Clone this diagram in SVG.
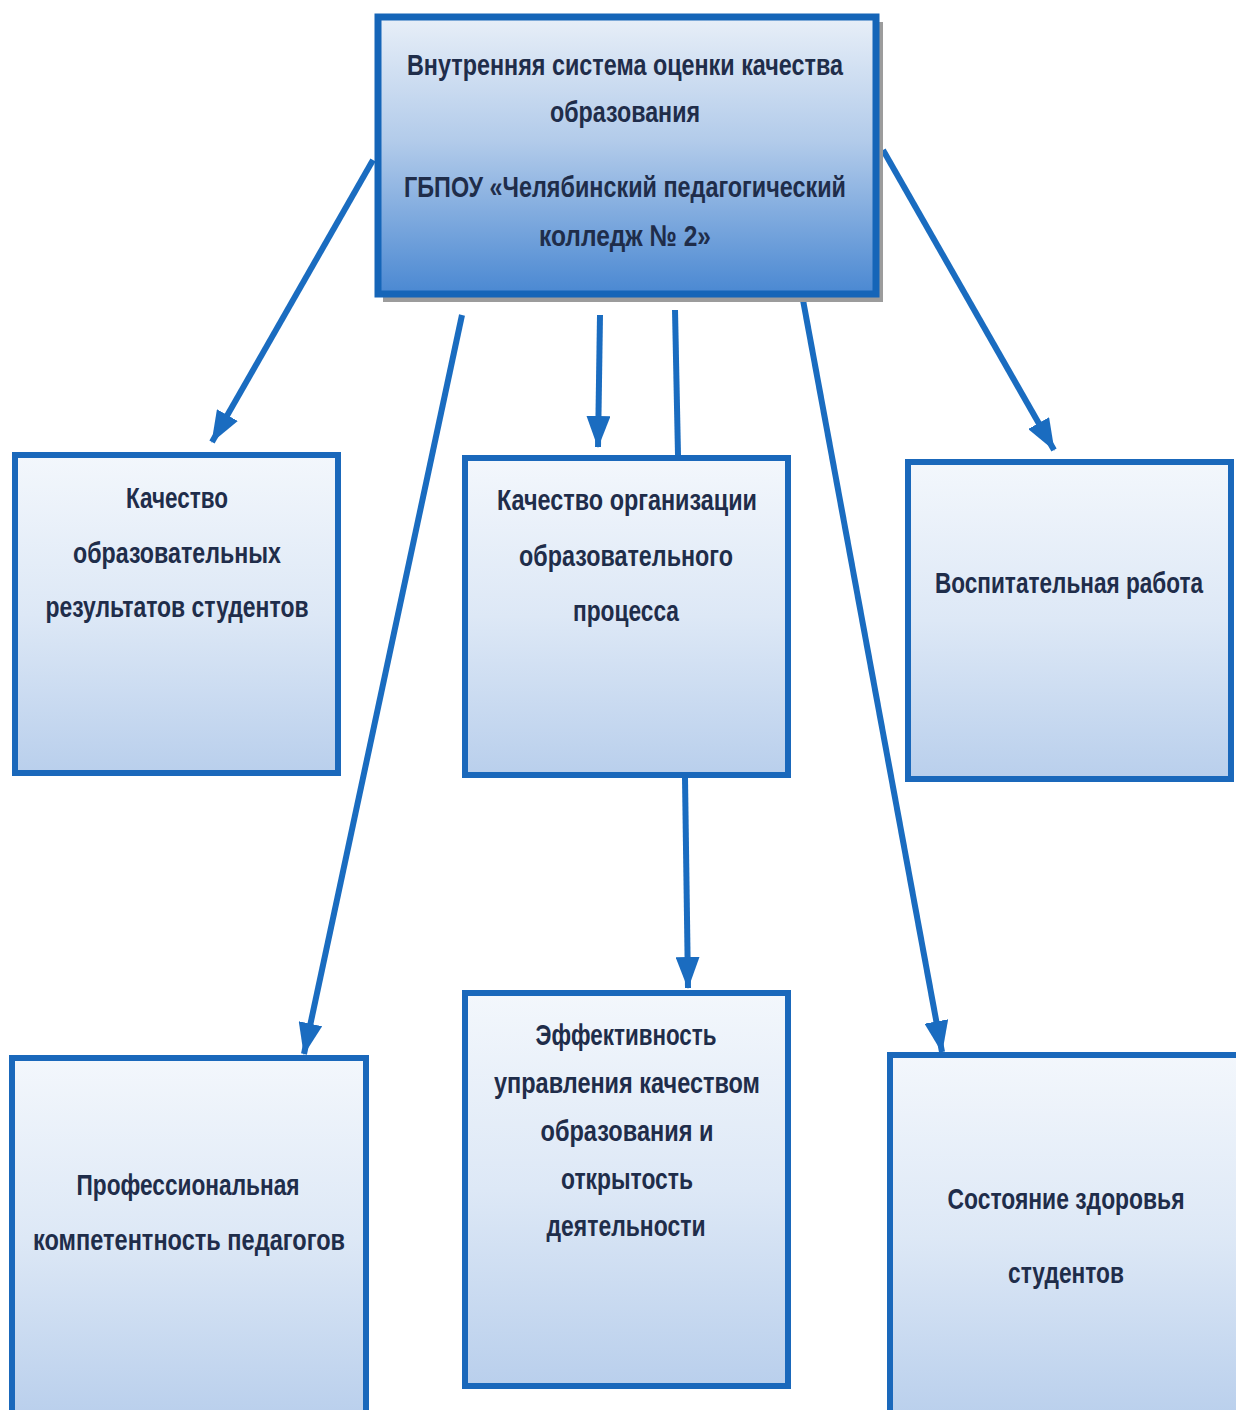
<svg xmlns="http://www.w3.org/2000/svg" width="1236" height="1410" viewBox="0 0 1236 1410">
<defs>
<linearGradient id="gTop" x1="0" y1="0" x2="0" y2="1">
<stop offset="0" stop-color="#e8eff8"/>
<stop offset="0.45" stop-color="#b2cbea"/>
<stop offset="1" stop-color="#4a88d2"/>
</linearGradient>
<linearGradient id="gBox" x1="0" y1="0" x2="0" y2="1">
<stop offset="0" stop-color="#f3f7fc"/>
<stop offset="0.5" stop-color="#dde8f6"/>
<stop offset="1" stop-color="#b9cfec"/>
</linearGradient>
<marker id="ah" viewBox="0 0 32 24" refX="31" refY="12" markerWidth="32" markerHeight="24" orient="auto" markerUnits="userSpaceOnUse">
<path d="M0,0 L32,12 L0,24 z" fill="#1a6cc0"/>
</marker>
</defs>
<style>
.box{fill:url(#gBox);stroke:#1a68bb;stroke-width:6}
.top{fill:url(#gTop);stroke:#1565b8;stroke-width:7}
.t{font-family:"Liberation Sans",Arial,sans-serif;font-weight:bold;font-size:30px;fill:#1f2d4a;text-anchor:middle}
.c{stroke:#1a6cc0;stroke-width:6;fill:none}
</style>
<rect width="1236" height="1410" fill="#ffffff"/>
<g id="connectors">
<line class="c" x1="373" y1="160" x2="212" y2="442" marker-end="url(#ah)"/>
<line class="c" x1="462" y1="315" x2="304" y2="1054" marker-end="url(#ah)"/>
<line class="c" x1="600" y1="315" x2="598" y2="447" marker-end="url(#ah)"/>
<line class="c" x1="675" y1="310" x2="678" y2="455"/>
<line class="c" x1="685" y1="778" x2="688" y2="988" marker-end="url(#ah)"/>
<line class="c" x1="803" y1="300" x2="942" y2="1052" marker-end="url(#ah)"/>
<line class="c" x1="883" y1="150" x2="1054" y2="450" marker-end="url(#ah)"/>
</g>
<g id="node-top">
<rect x="383" y="22" width="500" height="280" fill="#9c9c9c"/>
<rect class="top" x="378" y="17" width="498" height="277"/>
<text class="t" x="625" y="75" textLength="436" lengthAdjust="spacingAndGlyphs">Внутренняя система оценки качества</text>
<text class="t" x="625" y="122" textLength="150" lengthAdjust="spacingAndGlyphs">образования</text>
<text class="t" x="625" y="197" textLength="442" lengthAdjust="spacingAndGlyphs">ГБПОУ «Челябинский педагогический</text>
<text class="t" x="625" y="246" textLength="172" lengthAdjust="spacingAndGlyphs">колледж № 2»</text>
</g>
<g id="node-results">
<rect class="box" x="15" y="455" width="323" height="318"/>
<text class="t" x="177" y="508" textLength="102" lengthAdjust="spacingAndGlyphs">Качество</text>
<text class="t" x="177" y="563" textLength="208" lengthAdjust="spacingAndGlyphs">образовательных</text>
<text class="t" x="177" y="617" textLength="263" lengthAdjust="spacingAndGlyphs">результатов студентов</text>
</g>
<g id="node-process">
<rect class="box" x="465" y="458" width="323" height="317"/>
<text class="t" x="627" y="510" textLength="260" lengthAdjust="spacingAndGlyphs">Качество организации</text>
<text class="t" x="626" y="566" textLength="214" lengthAdjust="spacingAndGlyphs">образовательного</text>
<text class="t" x="626" y="621" textLength="106" lengthAdjust="spacingAndGlyphs">процесса</text>
</g>
<g id="node-upbringing">
<rect class="box" x="908" y="462" width="323" height="317"/>
<text class="t" x="1069" y="593" textLength="268" lengthAdjust="spacingAndGlyphs">Воспитательная работа</text>
</g>
<g id="node-teachers">
<rect class="box" x="12" y="1058" width="354" height="360"/>
<text class="t" x="188" y="1195" textLength="223" lengthAdjust="spacingAndGlyphs">Профессиональная</text>
<text class="t" x="189" y="1250" textLength="312" lengthAdjust="spacingAndGlyphs">компетентность педагогов</text>
</g>
<g id="node-management">
<rect class="box" x="465" y="993" width="323" height="393"/>
<text class="t" x="626" y="1045" textLength="181" lengthAdjust="spacingAndGlyphs">Эффективность</text>
<text class="t" x="627" y="1093" textLength="266" lengthAdjust="spacingAndGlyphs">управления качеством</text>
<text class="t" x="627" y="1141" textLength="173" lengthAdjust="spacingAndGlyphs">образования и</text>
<text class="t" x="627" y="1189" textLength="132" lengthAdjust="spacingAndGlyphs">открытость</text>
<text class="t" x="626" y="1236" textLength="159" lengthAdjust="spacingAndGlyphs">деятельности</text>
</g>
<g id="node-health">
<rect class="box" x="890" y="1055" width="360" height="365"/>
<text class="t" x="1066" y="1209" textLength="237" lengthAdjust="spacingAndGlyphs">Состояние здоровья</text>
<text class="t" x="1066" y="1283" textLength="116" lengthAdjust="spacingAndGlyphs">студентов</text>
</g>
</svg>
